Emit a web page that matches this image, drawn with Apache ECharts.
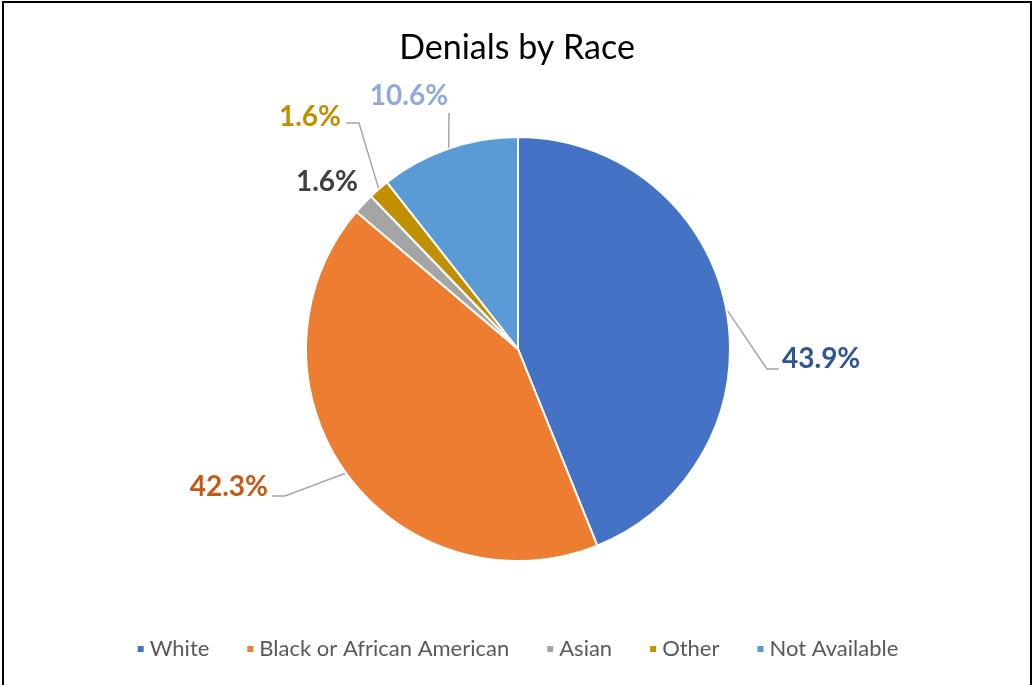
<!DOCTYPE html>
<html>
<head>
<meta charset="utf-8">
<script src="https://cdn.jsdelivr.net/npm/echarts@6/dist/echarts.min.js"></script>
<style>
html,body{margin:0;padding:0;background:#fff;}
#frame{position:absolute;left:2px;top:1px;width:1030px;height:700px;border:2px solid #000;box-sizing:border-box;}
#chart{position:absolute;left:0;top:0;width:1034px;height:685px;}
</style>
</head>
<body>
<div id="frame"></div>
<div id="chart"></div>
<script>
const titleText = 'Denials by Race';
const categories = ['White', 'Black or African American', 'Asian', 'Other', 'Not Available'];
const values = [43.9, 42.3, 1.6, 1.6, 10.6];
const sliceColors = ['#4472C4', '#ED7D31', '#A5A5A5', '#C09000', '#5B9BD5'];
const labelColors = ['#2F5597', '#C55A11', '#404040', '#BF9000', '#8FAADC'];

// layout constants
const CX = 518, CY = 349, R = 212;
const labelPos = [
  {x: 782, y: 359, align: 'left'},
  {x: 268, y: 487, align: 'right'},
  {x: 358, y: 182, align: 'right'},
  {x: 341, y: 117, align: 'right'},
  {x: 409, y: 96, align: 'center'}
];
// leader line bend / end points (null = no line)
const leaderPath = [
  [[767, 369], [779, 369]],
  [[285, 496], [272, 496]],
  null,
  [[359, 123], [346, 123]],
  [[449, 113]]
];

const total = values.reduce((a, b) => a + b, 0);
function midPoint(i) {
  let before = 0;
  for (let k = 0; k < i; k++) before += values[k];
  const frac = (before + values[i] / 2) / total;
  const a = frac * 2 * Math.PI; // clockwise from top
  return [CX + R * Math.sin(a), CY - R * Math.cos(a)];
}

const chart = echarts.init(document.getElementById('chart'), null, {renderer: 'canvas'});
chart.setOption({
  animation: false,
  color: sliceColors,
  title: {
    text: titleText,
    left: 'center',
    top: 26,
    textStyle: {fontFamily: 'Lato', fontSize: 34, fontWeight: 'normal', color: '#000'}
  },
  legend: {
    bottom: 20,
    left: 'center',
    icon: 'rect',
    itemWidth: 8,
    itemHeight: 8,
    itemGap: 36,
    textStyle: {fontFamily: 'Lato', fontSize: 22, color: '#595959'},
    data: categories
  },
  series: [{
    type: 'pie',
    center: [CX, CY],
    radius: R,
    startAngle: 90,
    clockwise: true,
    itemStyle: {borderColor: '#fff', borderWidth: 2},
    data: categories.map((c, i) => ({
      name: c,
      value: values[i],
      label: {color: labelColors[i]},
      labelLine: {show: leaderPath[i] !== null}
    })),
    label: {
      show: true,
      position: 'outside',
      formatter: p => p.value.toFixed(1) + '%',
      fontFamily: 'Lato',
      fontWeight: 'bold',
      fontSize: 28
    },
    labelLine: {show: true, lineStyle: {color: '#A6A6A6', width: 1.5}},
    labelLayout: function (params) {
      const i = params.dataIndex;
      const p = labelPos[i];
      const out = {x: p.x, y: p.y, align: p.align, verticalAlign: 'middle'};
      if (leaderPath[i]) {
        out.labelLinePoints = [midPoint(i)].concat(leaderPath[i]);
      }
      return out;
    }
  }]
});
</script>
</body>
</html>
